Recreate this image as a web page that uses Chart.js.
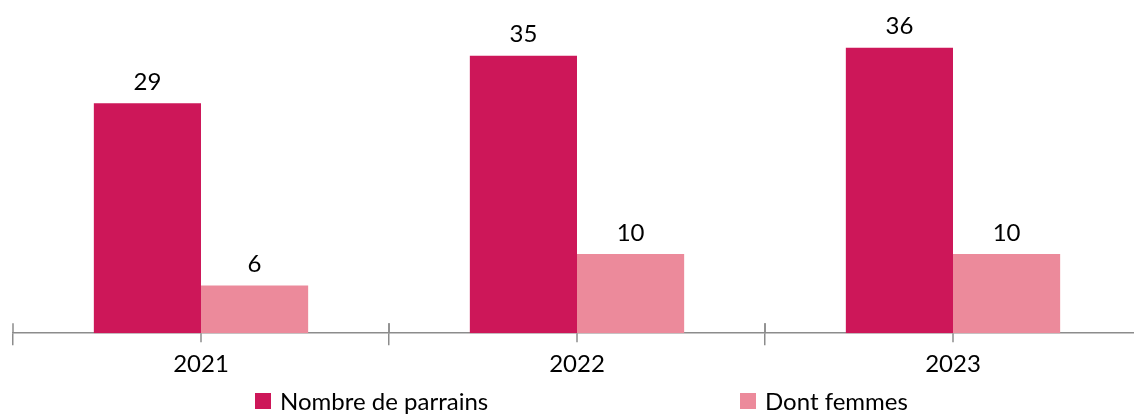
<!DOCTYPE html>
<html lang="fr">
<head>
  <meta charset="UTF-8">
  <title>Parrains</title>
  <script src="https://cdn.jsdelivr.net/npm/chart.js"></script>
  <style>
    html, body { margin: 0; padding: 0; background: #fff; }
    #wrap { position: relative; width: 1134px; height: 415px; overflow: hidden; }
    #legend span.item {
      position: absolute; top: 386px; display: flex; align-items: center;
      font-family: Lato, sans-serif; font-size: 24px; color: #000; white-space: nowrap;
    }
    #legend span.box { width: 16px; height: 16px; margin-right: 9px; display: inline-block; }
  </style>
</head>
<body>
  <div id="wrap">
    <canvas id="chart" width="1141" height="415"></canvas>
    <div id="legend"></div>
  </div>

  <script>
    const years = ['2021', '2022', '2023'];
    const parrains = [29, 35, 36];
    const femmes = [6, 10, 10];
    const seriesNames = ['Nombre de parrains', 'Dont femmes'];
    const colors = ['#cd1759', '#ec8a9b'];
    const axisColor = '#8c8c8c';
    const legendLeft = [255, 740];

    // valeurs au-dessus des barres + petits traits de l'axe
    const extras = {
      id: 'extras',
      afterDatasetsDraw(chart) {
        const ctx = chart.ctx;
        ctx.save();
        ctx.font = '24px Lato, sans-serif';
        ctx.fillStyle = '#000';
        ctx.textAlign = 'center';
        ctx.textBaseline = 'bottom';
        chart.data.datasets.forEach((ds, i) => {
          chart.getDatasetMeta(i).data.forEach((bar, j) => {
            ctx.fillText(ds.data[j], bar.x, bar.y - 9);
          });
        });
        const x = chart.scales.x;
        const base = chart.chartArea.bottom;
        ctx.strokeStyle = axisColor;
        ctx.lineWidth = 1.5;
        const half = (x.getPixelForValue(1) - x.getPixelForValue(0)) / 2;
        years.forEach((y, i) => {
          const c = x.getPixelForValue(i);
          ctx.beginPath();
          ctx.moveTo(c, base);
          ctx.lineTo(c, base + 9);
          ctx.stroke();
          [c - half, c + half].forEach(b => {
            ctx.beginPath();
            ctx.moveTo(b, base - 10);
            ctx.lineTo(b, base);
            ctx.stroke();
          });
        });
        ctx.restore();
      }
    };

    new Chart(document.getElementById('chart'), {
      type: 'bar',
      data: {
        labels: years,
        datasets: [
          { label: seriesNames[0], data: parrains, backgroundColor: colors[0] },
          { label: seriesNames[1], data: femmes, backgroundColor: colors[1] }
        ]
      },
      options: {
        responsive: false,
        animation: false,
        layout: { padding: { left: 13, right: 0, top: 16, bottom: 31 } },
        datasets: { bar: { categoryPercentage: 0.57, barPercentage: 1 } },
        plugins: { legend: { display: false }, tooltip: { enabled: false } },
        scales: {
          y: { display: false, min: 0, max: 40 },
          x: {
            offset: true,
            grid: { offset: true, drawOnChartArea: false, tickLength: 12, color: axisColor, lineWidth: 1.5 },
            border: { color: axisColor, width: 1.5 },
            ticks: { color: '#000', font: { family: 'Lato', size: 24 }, padding: 5 }
          }
        }
      },
      plugins: [extras]
    });

    const legend = document.getElementById('legend');
    seriesNames.forEach((name, i) => {
      const item = document.createElement('span');
      item.className = 'item';
      item.style.left = legendLeft[i] + 'px';
      const box = document.createElement('span');
      box.className = 'box';
      box.style.background = colors[i];
      item.appendChild(box);
      item.appendChild(document.createTextNode(name));
      legend.appendChild(item);
    });
  </script>
</body>
</html>
